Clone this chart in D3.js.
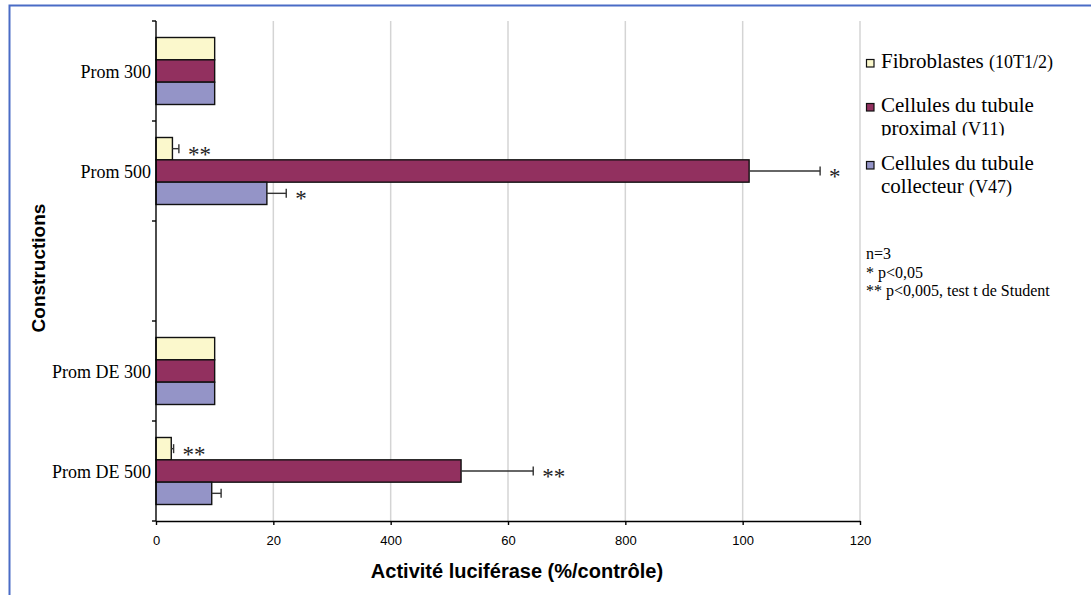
<!DOCTYPE html>
<html>
<head>
<meta charset="utf-8">
<script src="https://cdn.jsdelivr.net/npm/d3@7"></script>
<style>
  body { margin: 0; background: #fff; }
  svg { display: block; }
</style>
</head>
<body>
<svg></svg>
<script>
// data
var categories = ["Prom 300", "Prom 500", "", "Prom DE 300", "Prom DE 500"];

var fibro      = [100, 28, null, 100, 26];
var fibroErr   = [0, 11, 0, 0, 4];
var fibroStars = ["", "**", "", "", "**"];

var prox      = [100, 1011, null, 100, 520];
var proxErr   = [0, 121, 0, 0, 123];
var proxStars = ["", "*", "", "", "**"];

var coll      = [100, 189, null, 100, 95];
var collErr   = [0, 33, 0, 0, 16];
var collStars = ["", "*", "", "", ""];

var xTicks = [0, 200, 400, 600, 800, 1000, 1200];
var xTickLabels = ["0", "20", "400", "60", "800", "100", "120"];

var colors = ["#FBF8CC", "#92305F", "#9494C7"];

var series = [
    { values: fibro, err: fibroErr, stars: fibroStars },
    { values: prox, err: proxErr, stars: proxStars },
    { values: coll, err: collErr, stars: collStars }
];

var WIDTH = 1091, HEIGHT = 595;
var svg = d3.select("svg")
    .attr("width", WIDTH)
    .attr("height", HEIGHT);

// frame
svg.append("rect")
    .attr("x", 9.5).attr("y", 5.5)
    .attr("width", 1200).attr("height", 700)
    .attr("fill", "none")
    .attr("stroke", "#4A6CC6")
    .attr("stroke-width", 2);

var plotTop = 21, plotBottom = 521;
var x = d3.scaleLinear().domain([0, 1200]).range([156, 860]);
var yOuter = d3.scaleBand().domain(categories).range([plotTop, plotBottom]);
var y = d3.scaleBand().domain(categories).range([plotTop, plotBottom])
    .paddingInner(0.33).paddingOuter(0.165);
var ySub = d3.scaleBand().domain([0, 1, 2]).range([0, y.bandwidth()]);

// grid lines
svg.append("g").selectAll("line")
    .data(xTicks.filter(d => d > 0))
    .enter().append("line")
    .attr("x1", d => x(d)).attr("x2", d => x(d))
    .attr("y1", plotTop).attr("y2", plotBottom)
    .attr("stroke", "#D4D4D4")
    .attr("stroke-width", 1.5);

// bars
var rows = [];
series.forEach(function (s, si) {
    categories.forEach(function (c, ci) {
        if (s.values[ci] == null) return;
        rows.push({ cat: c, s: si, v: s.values[ci], e: s.err[ci], star: s.stars[ci] });
    });
});

var bars = svg.append("g");
bars.selectAll("rect")
    .data(rows)
    .enter().append("rect")
    .attr("x", x(0))
    .attr("y", d => y(d.cat) + ySub(d.s))
    .attr("width", d => x(d.v) - x(0))
    .attr("height", ySub.bandwidth())
    .attr("fill", d => colors[d.s])
    .attr("stroke", "#111")
    .attr("stroke-width", 1.4);

// error bars (positive side only)
var errs = svg.append("g").attr("stroke", "#333").attr("stroke-width", 1.4);
rows.filter(d => d.e > 0).forEach(function (d) {
    var cy = y(d.cat) + ySub(d.s) + ySub.bandwidth() / 2;
    errs.append("line")
        .attr("x1", x(d.v)).attr("x2", x(d.v + d.e))
        .attr("y1", cy).attr("y2", cy);
    errs.append("line")
        .attr("x1", x(d.v + d.e)).attr("x2", x(d.v + d.e))
        .attr("y1", cy - 4.5).attr("y2", cy + 4.5);
});

// significance stars
svg.append("g").selectAll("text")
    .data(rows.filter(d => d.star))
    .enter().append("text")
    .attr("x", d => x(d.v + d.e) + 9)
    .attr("y", d => y(d.cat) + ySub(d.s) + ySub.bandwidth() / 2 + 13)
    .attr("font-family", "'Liberation Serif', 'Times New Roman', serif")
    .attr("font-size", 23)
    .attr("fill", "#222")
    .text(d => d.star);

// x axis
var xAxis = d3.axisBottom(x)
    .tickValues(xTicks)
    .tickFormat((d, i) => xTickLabels[i])
    .tickSize(4)
    .tickSizeOuter(0)
    .tickPadding(11);

var gx = svg.append("g")
    .attr("transform", "translate(0," + plotBottom + ")")
    .call(xAxis);
gx.select(".domain").attr("stroke", "#000").attr("stroke-width", 1.4);
gx.selectAll(".tick line").attr("stroke", "#000").attr("stroke-width", 1.4);
gx.selectAll(".tick text")
    .attr("font-family", "'Liberation Sans', Arial, sans-serif")
    .attr("font-size", 13)
    .attr("fill", "#000");

// y axis (ticks between categories)
var gy = svg.append("g");
gy.append("line")
    .attr("x1", x(0)).attr("x2", x(0))
    .attr("y1", plotTop).attr("y2", plotBottom)
    .attr("stroke", "#000").attr("stroke-width", 1.4);
var bounds = categories.map(c => yOuter(c)).concat([plotBottom]);
gy.selectAll(".ytick")
    .data(bounds)
    .enter().append("line")
    .attr("class", "ytick")
    .attr("x1", x(0) - 4).attr("x2", x(0))
    .attr("y1", d => d).attr("y2", d => d)
    .attr("stroke", "#000").attr("stroke-width", 1.4);
gy.selectAll(".ylabel")
    .data(categories.filter(c => c))
    .enter().append("text")
    .attr("class", "ylabel")
    .attr("x", 151)
    .attr("y", c => yOuter(c) + yOuter.bandwidth() / 2 + 7)
    .attr("text-anchor", "end")
    .attr("font-family", "'Liberation Serif', 'Times New Roman', serif")
    .attr("font-size", 18)
    .attr("fill", "#000")
    .text(c => c);

// axis titles
svg.append("text")
    .attr("x", 517).attr("y", 578)
    .attr("text-anchor", "middle")
    .attr("font-family", "'Liberation Sans', Arial, sans-serif")
    .attr("font-weight", "bold")
    .attr("font-size", 20)
    .text("Activité luciférase (%/contrôle)");

svg.append("text")
    .attr("transform", "translate(45,268) rotate(-90)")
    .attr("text-anchor", "middle")
    .attr("font-family", "'Liberation Sans', Arial, sans-serif")
    .attr("font-weight", "bold")
    .attr("font-size", 19)
    .text("Constructions");

// legend
var legendItems = [
    { lines: [["Fibroblastes ", " (10T1/2)"]], base: 68 },
    { lines: [["Cellules du tubule", ""], ["proximal ", "(V11)"]], base: 112 },
    { lines: [["Cellules du tubule", ""], ["collecteur ", "(V47)"]], base: 170 }
];
var serif = "'Liberation Serif', 'Times New Roman', serif";
svg.append("defs").append("clipPath").attr("id", "clip-prox")
    .append("rect").attr("x", 870).attr("y", 80).attr("width", 221).attr("height", 55.5);

var lg = svg.append("g");
legendItems.forEach(function (it, i) {
    lg.append("rect")
        .attr("x", 866.5).attr("y", it.base - 8.5)
        .attr("width", 7.5).attr("height", 7.5)
        .attr("fill", colors[i])
        .attr("stroke", "#111").attr("stroke-width", 1.2);
    var g = lg.append("g");
    if (i == 1) g.attr("clip-path", "url(#clip-prox)");
    it.lines.forEach(function (ln, li) {
        var t = g.append("text")
            .attr("x", 881)
            .attr("y", it.base + li * 22.7)
            .attr("font-family", serif)
            .attr("fill", "#000");
        t.append("tspan").attr("font-size", 21).text(ln[0]);
        if (ln[1]) t.append("tspan").attr("font-size", 18).text(ln[1]);
    });
});

// notes
var notes = ["n=3", "* p<0,05", "** p<0,005, test t de Student"];
svg.append("g").selectAll("text")
    .data(notes)
    .enter().append("text")
    .attr("x", 866)
    .attr("y", (d, i) => 259 + i * 18.5)
    .attr("font-family", serif)
    .attr("font-size", 16)
    .attr("fill", "#000")
    .text(d => d);
</script>
</body>
</html>
